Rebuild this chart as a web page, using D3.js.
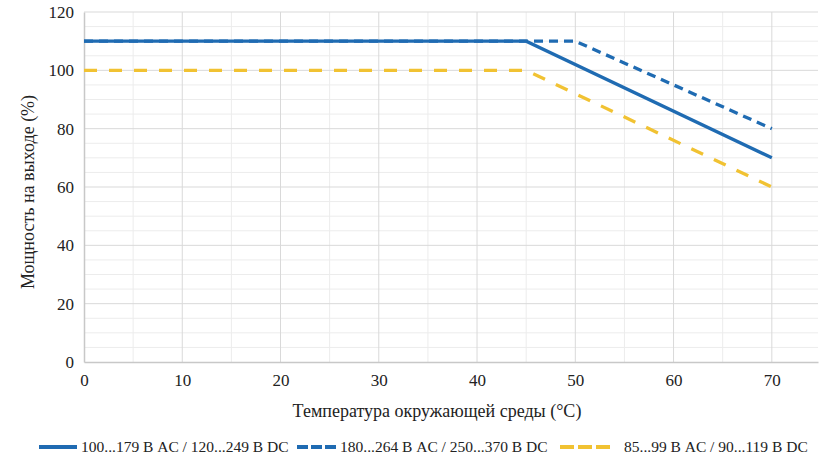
<!DOCTYPE html>
<html>
<head>
<meta charset="utf-8">
<script src="https://cdn.jsdelivr.net/npm/d3@7"></script>
<style>
  body { margin: 0; background: #fff; }
</style>
</head>
<body>
<script>
// данные
const seriesNames = ["100...179 В AC / 120...249 В DC", "180...264 В AC / 250...370 В DC", "85...99 В AC / 90...119 В DC"];
const solidBlue = [[0, 110], [45, 110], [70, 70]];
const dashedBlue = [[0, 110], [50, 110], [70, 80]];
const dashedYellow = [[0, 100], [45, 100], [70, 60]];
const xTicks = [0, 10, 20, 30, 40, 50, 60, 70];
const yTicks = [0, 20, 40, 60, 80, 100, 120];

const W = 831, H = 462;
const margin = { left: 84, top: 12, right: 13, bottom: 100 };
const serif = "Liberation Serif";
const blue = "#1f6bb2", yellow = "#f1c232";

const svg = d3.select("body").append("svg")
    .attr("width", W)
    .attr("height", H);

const x = d3.scaleLinear().domain([0, 74.7]).range([margin.left, W - margin.right]);
const y = d3.scaleLinear().domain([0, 120]).range([H - margin.bottom, margin.top]);

// сетка: мелкие линии через 5, крупные через 10 / 20
const minorX = d3.range(5, 75, 5).filter(d => d % 10 !== 0);
const minorY = d3.range(5, 125, 5).filter(d => d % 20 !== 0);

svg.append("g").selectAll("line")
    .data(minorX)
    .join("line")
    .attr("x1", d => x(d)).attr("x2", d => x(d))
    .attr("y1", y(0)).attr("y2", y(120))
    .attr("stroke", "#ececec").attr("stroke-width", 1);

svg.append("g").selectAll("line")
    .data(minorY)
    .join("line")
    .attr("x1", x(0)).attr("x2", x(74.7))
    .attr("y1", d => y(d)).attr("y2", d => y(d))
    .attr("stroke", "#ececec").attr("stroke-width", 1);

svg.append("g").selectAll("line")
    .data(xTicks.slice(1))
    .join("line")
    .attr("x1", d => x(d)).attr("x2", d => x(d))
    .attr("y1", y(0)).attr("y2", y(120))
    .attr("stroke", "#d9d9d9").attr("stroke-width", 1);

svg.append("g").selectAll("line")
    .data(yTicks.slice(1))
    .join("line")
    .attr("x1", x(0)).attr("x2", x(74.7))
    .attr("y1", d => y(d)).attr("y2", d => y(d))
    .attr("stroke", "#d9d9d9").attr("stroke-width", 1);

// оси
const xAxis = svg.append("g")
    .attr("transform", `translate(0,${y(0)})`)
    .call(d3.axisBottom(x).tickValues(xTicks).tickSize(0).tickPadding(12));
xAxis.attr("font-family", serif).attr("font-size", 17);
xAxis.select(".domain").attr("stroke", "#c8c8c8").attr("stroke-width", 1.5);
xAxis.selectAll("text").attr("fill", "#222").attr("font-family", serif);

const yAxis = svg.append("g")
    .attr("transform", `translate(${x(0)},0)`)
    .call(d3.axisLeft(y).tickValues(yTicks).tickSize(0).tickPadding(10));
yAxis.attr("font-family", serif).attr("font-size", 17);
yAxis.select(".domain").attr("stroke", "#c8c8c8").attr("stroke-width", 1.5);
yAxis.selectAll("text").attr("fill", "#222").attr("font-family", serif);

svg.append("text")
    .attr("x", 437).attr("y", 417)
    .attr("text-anchor", "middle")
    .attr("fill", "#222")
    .attr("font-family", serif)
    .attr("font-size", 18)
    .text("Температура окружающей среды (°C)");

svg.append("text")
    .attr("transform", "translate(34,192) rotate(-90)")
    .attr("text-anchor", "middle")
    .attr("fill", "#222")
    .attr("font-family", serif)
    .attr("font-size", 18)
    .text("Мощность на выходе (%)");

// линии
const line = d3.line().x(d => x(d[0])).y(d => y(d[1]));

const series = [
    { data: dashedYellow, color: yellow, dash: "13,12" },
    { data: dashedBlue, color: blue, dash: "9,6" },
    { data: solidBlue, color: blue, dash: null }
];

svg.append("g").selectAll("path")
    .data(series)
    .join("path")
    .attr("d", d => line(d.data))
    .attr("fill", "none")
    .attr("stroke", d => d.color)
    .attr("stroke-width", 3.3)
    .attr("stroke-dasharray", d => d.dash);

// легенда
const legendItems = [
    { name: seriesNames[0], color: blue, dash: null, x0: 39, x1: 77, tx: 81 },
    { name: seriesNames[1], color: blue, dash: "11,3", x0: 297, x1: 337, tx: 340 },
    { name: seriesNames[2], color: yellow, dash: "14,4", x0: 560, x1: 611, tx: 624 }
];

const legend = svg.append("g");
legend.selectAll("line")
    .data(legendItems)
    .join("line")
    .attr("x1", d => d.x0).attr("x2", d => d.x1)
    .attr("y1", 447).attr("y2", 447)
    .attr("stroke", d => d.color)
    .attr("stroke-width", 4)
    .attr("stroke-dasharray", d => d.dash);

legend.selectAll("text")
    .data(legendItems)
    .join("text")
    .attr("x", d => d.tx).attr("y", 452)
    .attr("fill", "#222")
    .attr("font-family", serif)
    .attr("font-size", 15.5)
    .text(d => d.name);
</script>
</body>
</html>
